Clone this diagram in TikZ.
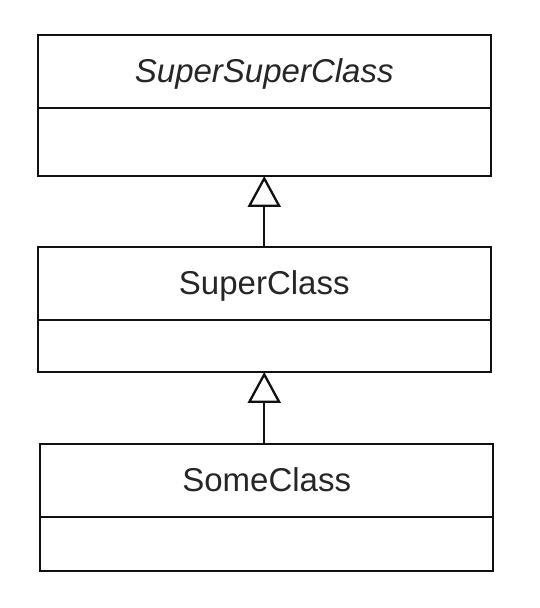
\documentclass[tikz,border=0pt]{standalone}
\usepackage{fontspec}
\usepackage{tikz}
\usetikzlibrary{arrows.meta,positioning}
\newfontfamily\umlfont{Liberation Sans}
\definecolor{cInk}{HTML}{111111}
\tikzset{
  clsname/.style = {draw=cInk, line width=2.3pt, outer sep=0pt, inner sep=0pt,
                    minimum width=453pt, minimum height=73pt,
                    text height=23pt, text depth=0pt,
                    font=\umlfont\fontsize{33}{40}\selectfont, text=black!85},
  clsbody/.style = {draw=cInk, line width=2.3pt, outer sep=0pt, inner sep=0pt,
                    minimum width=453pt},
  inherit/.style = {-{Triangle[open, length=31pt, width=33pt, fill=white]},
                    line width=2.3pt, draw=cInk},
}

\begin{document}
\begin{tikzpicture}[x=1pt, y=1pt]
  \useasboundingbox[fill=white] (0,0) rectangle (540,608);
  % abstract base class
  \node[clsname] (ssuper) at (264.25,536.5) {\itshape SuperSuperClass};
  \node[clsbody, minimum height=68pt, below=0pt of ssuper] (ssuperbody) {};
  % middle class
  \node[clsname, below=71pt of ssuperbody] (super) {SuperClass};
  \node[clsbody, minimum height=52pt, below=0pt of super] (superbody) {};
  % leaf class
  \node[clsname, below=72pt of superbody, xshift=2.5pt] (some) {SomeClass};
  \node[clsbody, minimum height=54pt, below=0pt of some] (somebody) {};
  % generalisation arrows
  \draw[inherit] (super.north) -- (super.north |- ssuperbody.south);
  \draw[inherit] (some.north -| superbody.south) -- (superbody.south);
\end{tikzpicture}
\end{document}
